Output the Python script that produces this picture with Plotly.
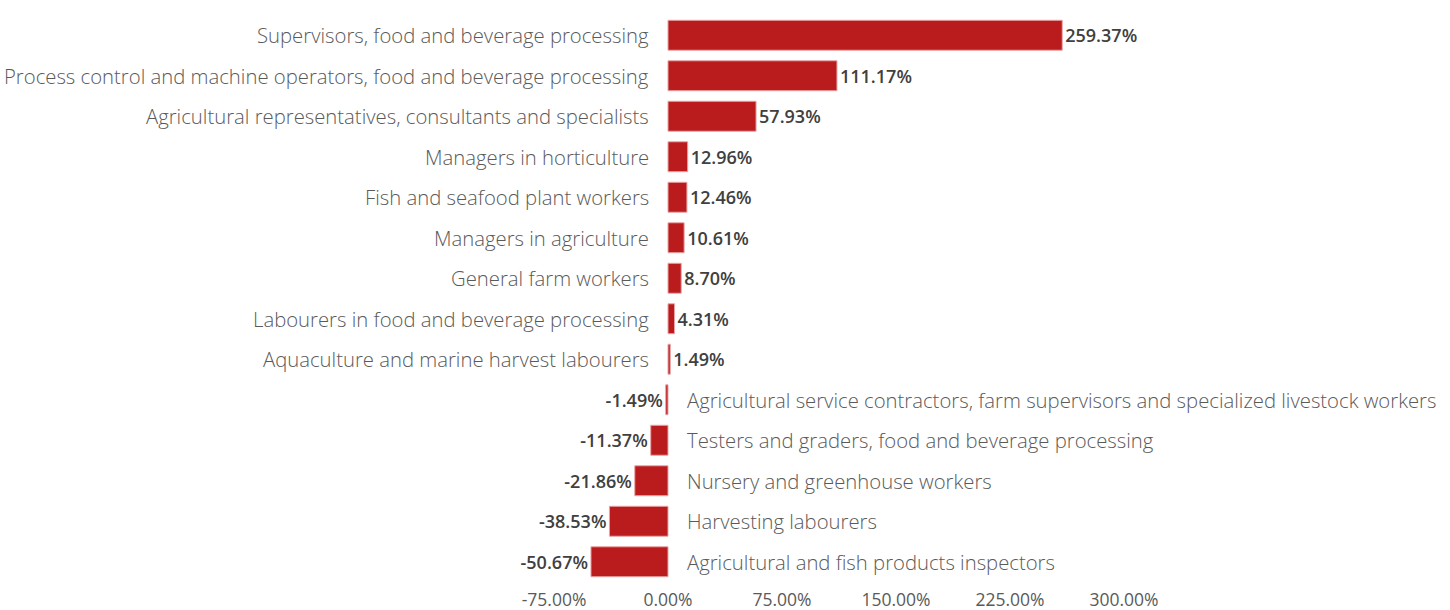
import plotly.graph_objects as go

occupations = [
    "Supervisors, food and beverage processing",
    "Process control and machine operators, food and beverage processing",
    "Agricultural representatives, consultants and specialists",
    "Managers in horticulture",
    "Fish and seafood plant workers",
    "Managers in agriculture",
    "General farm workers",
    "Labourers in food and beverage processing",
    "Aquaculture and marine harvest labourers",
    "Agricultural service contractors, farm supervisors and specialized livestock workers",
    "Testers and graders, food and beverage processing",
    "Nursery and greenhouse workers",
    "Harvesting labourers",
    "Agricultural and fish products inspectors",
]
change_pct = [259.37, 111.17, 57.93, 12.96, 12.46, 10.61, 8.70, 4.31, 1.49,
              -1.49, -11.37, -21.86, -38.53, -50.67]
tick_values = [-75, 0, 75, 150, 225, 300]
tick_labels = ["-75.00%", "0.00%", "75.00%", "150.00%", "225.00%", "300.00%"]

BAR_RED = "#BA1B1D"
LABEL_GREY = "#5a5a5a"
VALUE_GREY = "#404040"

fig = go.Figure(
    go.Bar(
        x=change_pct,
        y=occupations,
        orientation="h",
        marker=dict(color=BAR_RED, line=dict(color="#e8a5a6", width=1)),
        width=0.74,
        text=[f"{v:.2f}%" for v in change_pct],
        textposition="outside",
        cliponaxis=False,
        textfont=dict(family="Open Sans", size=18, color=VALUE_GREY, weight=600),
        hoverinfo="skip",
    )
)

# Occupation names sit beside the zero line, on the side opposite each bar
for name, v in zip(occupations, change_pct):
    positive = v >= 0
    fig.add_annotation(
        x=0, y=name, xref="x", yref="y",
        text=name, showarrow=False,
        xanchor="right" if positive else "left",
        xshift=-17 if positive else 17,
        font=dict(family="Open Sans", size=20.3, color=LABEL_GREY, weight=300),
    )

fig.update_layout(
    width=1450, height=610,
    margin=dict(l=554, r=326, t=15, b=28, autoexpand=False),
    plot_bgcolor="white", paper_bgcolor="white",
    showlegend=False,
    xaxis=dict(
        range=[-75, 300],
        tickvals=tick_values, ticktext=tick_labels,
        showgrid=False, zeroline=False, showline=False,
        ticks="", ticklabelstandoff=5,
        tickfont=dict(family="Open Sans", size=17.5, color=LABEL_GREY),
        automargin=False,
        fixedrange=True,
    ),
    yaxis=dict(
        categoryorder="array", categoryarray=occupations,
        autorange="reversed",
        showticklabels=False, showgrid=False, zeroline=False, showline=False,
        automargin=False,
        fixedrange=True,
    ),
)

fig.write_html("out.html")
